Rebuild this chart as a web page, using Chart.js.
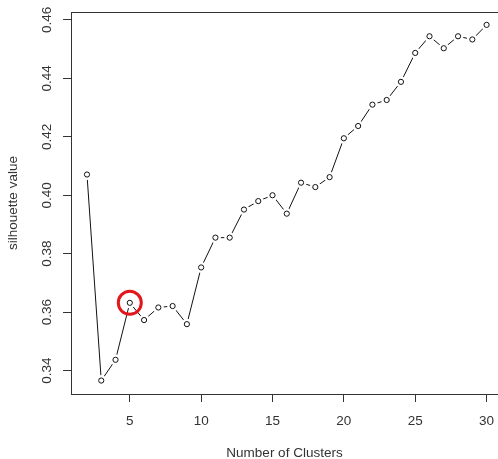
<!DOCTYPE html>
<html>
<head>
<meta charset="utf-8">
<title>Silhouette</title>
<script src="https://cdn.jsdelivr.net/npm/chart.js@4"></script>
<style>
  html, body { margin: 0; padding: 0; background: #fff; }
  #wrap { width: 498px; height: 459px; }
</style>
</head>
<body>
<div id="wrap"><canvas id="grafico"></canvas></div>
<script>
// dados: silhueta média por número de clusters
const clusters = [2, 3, 4, 5, 6, 7, 8, 9, 10, 11, 12, 13, 14, 15, 16,
                  17, 18, 19, 20, 21, 22, 23, 24, 25, 26, 27, 28, 29, 30];
const silhueta = [0.4071, 0.3366, 0.3437, 0.3632, 0.3573, 0.3616, 0.3621, 0.3559,
                  0.3753, 0.3855, 0.3855, 0.3951, 0.3980, 0.4000, 0.3937, 0.4043,
                  0.4028, 0.4062, 0.4195, 0.4237, 0.4310, 0.4326, 0.4388, 0.4487,
                  0.4544, 0.4503, 0.4544, 0.4533, 0.4583];
const xTicks = [5, 10, 15, 20, 25, 30];
const yTicks = [0.34, 0.36, 0.38, 0.40, 0.42, 0.44, 0.46];
const destaque = 5; // k escolhido

const corEixo = '#333';
const corTexto = '#333';
const fonte = '"Liberation Sans", Arial, sans-serif';

Chart.defaults.font.family = fonte;
Chart.defaults.font.size = 13.5;
Chart.defaults.color = corTexto;

const pontos = clusters.map((c, i) => ({ x: c, y: silhueta[i] }));
const pontoDestaque = [{ x: destaque, y: silhueta[clusters.indexOf(destaque)] }];

// moldura superior e rótulos verticais do eixo y (estilo R)
const molduraPlugin = {
    id: 'moldura',
    afterDraw(chart) {
        const { ctx, chartArea, scales } = chart;
        ctx.save();
        ctx.strokeStyle = corEixo;
        ctx.lineWidth = 1;
        const topo = Math.round(chartArea.top) + 0.5;
        ctx.beginPath();
        ctx.moveTo(chartArea.left, topo);
        ctx.lineTo(chartArea.right, topo);
        ctx.stroke();

        ctx.fillStyle = corTexto;
        ctx.font = '13.5px ' + fonte;
        ctx.textAlign = 'center';
        ctx.textBaseline = 'middle';
        yTicks.forEach(v => {
            const py = scales.y.getPixelForValue(v);
            ctx.save();
            ctx.translate(chartArea.left - 24, py);
            ctx.rotate(-Math.PI / 2);
            ctx.fillText(v.toFixed(2), 0, 0);
            ctx.restore();
        });
        ctx.restore();
    }
};

new Chart(document.getElementById('grafico').getContext('2d'), {
    type: 'line',
    data: {
        datasets: [
            {
                // círculo vermelho em volta do k escolhido
                data: pontoDestaque,
                showLine: false,
                pointRadius: 11.5,
                pointBorderWidth: 3,
                pointBorderColor: '#e3161b',
                pointBackgroundColor: 'rgba(0,0,0,0)',
                clip: false
            },
            {
                data: pontos,
                showLine: false,
                pointRadius: 2.6,
                pointBorderWidth: 1,
                pointBorderColor: '#111',
                pointBackgroundColor: '#fff',
                clip: false
            },
            {
                // espaço branco em volta de cada ponto (type = "b")
                data: pontos,
                showLine: false,
                pointRadius: 5.5,
                pointBorderWidth: 0,
                pointBackgroundColor: '#fff',
                clip: false
            },
            {
                data: pontos,
                borderColor: '#111',
                borderWidth: 1,
                pointRadius: 0,
                tension: 0,
                fill: false
            }
        ]
    },
    options: {
        responsive: true,
        maintainAspectRatio: false,
        animation: false,
        events: [],
        layout: { autoPadding: false, padding: { top: 12, right: 0, bottom: 0, left: 0 } },
        plugins: {
            legend: { display: false },
            tooltip: { enabled: false }
        },
        scales: {
            x: {
                type: 'linear',
                min: 0.88,
                max: 30.8,
                afterBuildTicks: s => { s.ticks = xTicks.map(v => ({ value: v })); },
                afterFit: s => { s.height = 65; s.paddingLeft = 0; s.paddingRight = 0; },
                grid: {
                    drawOnChartArea: false,
                    drawTicks: true,
                    tickLength: 8,
                    color: corEixo
                },
                border: { display: true, color: corEixo, width: 1 },
                ticks: {
                    padding: 11,
                    maxRotation: 0,
                    autoSkip: false,
                    callback: v => String(v)
                },
                title: {
                    display: true,
                    text: 'Number of Clusters',
                    padding: { top: 0, bottom: -2 }
                }
            },
            y: {
                type: 'linear',
                min: 0.3320,
                max: 0.4627,
                afterBuildTicks: s => { s.ticks = yTicks.map(v => ({ value: v })); },
                afterFit: s => { s.width = 71; },
                grid: {
                    drawOnChartArea: false,
                    drawTicks: true,
                    tickLength: 8,
                    color: corEixo
                },
                border: { display: true, color: corEixo, width: 1 },
                ticks: { display: false },
                title: {
                    display: true,
                    text: 'silhouette value',
                    padding: { top: 5, bottom: 0 }
                }
            }
        }
    },
    plugins: [molduraPlugin]
});
</script>
</body>
</html>
